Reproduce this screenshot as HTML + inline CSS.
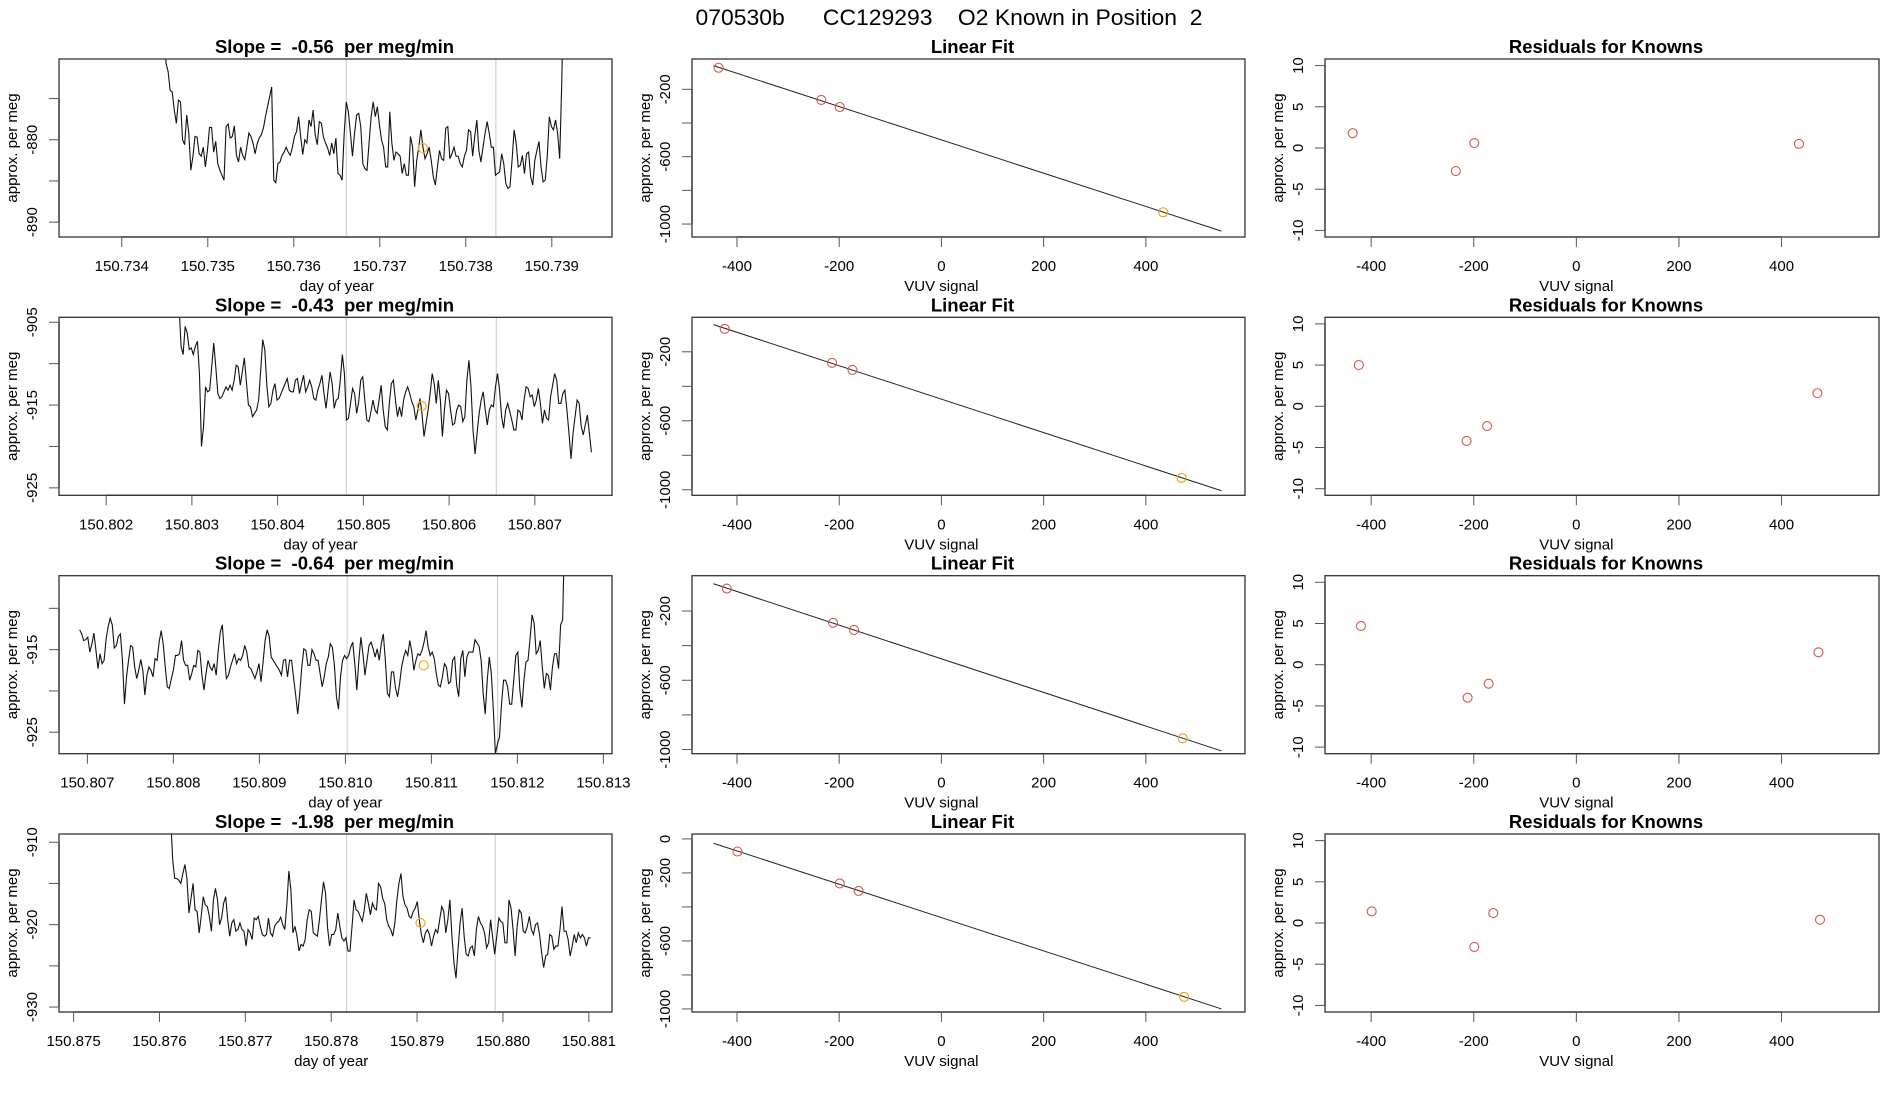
<!DOCTYPE html>
<html>
<head>
<meta charset="utf-8">
<style>
html,body{margin:0;padding:0;background:#fff;}
svg{display:block;}
text{font-family:"Liberation Sans",Arial,sans-serif;fill:#000;}
.tick{font-size:15px;}
.lab{font-size:15px;}
.ttl{font-size:18.5px;font-weight:bold;}
</style>
</head>
<body>
<svg id="fig" width="1900" height="1100" viewBox="0 0 1900 1100" xmlns="http://www.w3.org/2000/svg">
<rect x="0" y="0" width="1900" height="1100" fill="#fff"/>
<text x="949" y="25" text-anchor="middle" style="font-size:22px;white-space:pre" xml:space="preserve" textLength="507" lengthAdjust="spacingAndGlyphs">070530b      CC129293    O2 Known in Position  2</text>
</svg>
<script>
// ---------- time-series data (per meg values, evenly sampled) ----------
const tsTimeRange1 = [150.73449, 150.73914];
const tsValues1 = [-860,-870.7,-871.7,-874,-874.2,-876.4,-878,-875.2,-875.4,-880,-880.6,-877,-879.2,-883.7,-882,-879.6,-879.7,-881.7,-882,-880.9,-883.3,-881.3,-878.5,-878.5,-881.5,-880.2,-882.9,-883.7,-884.3,-884.9,-878.4,-878.1,-879.8,-879.6,-878.3,-881.9,-882.7,-880.9,-881.9,-882.4,-880.9,-879.2,-879.6,-880.4,-881.7,-880.5,-879.8,-879.4,-878.6,-877.2,-876,-874.8,-873.6,-884.9,-885.2,-882.9,-882.7,-881.9,-881.5,-880.9,-881.5,-881.9,-880.9,-879.6,-879,-877.2,-879.6,-881.8,-880,-880.4,-877.6,-878.4,-876.4,-879.4,-880.6,-877.8,-878,-879.7,-880.4,-881,-881.9,-880.4,-881.7,-879.8,-884.1,-884.3,-884.9,-879.2,-875.4,-876.6,-879.2,-882,-879.2,-877,-876.8,-878.4,-882.9,-883.5,-883.7,-880.4,-877.2,-875.4,-877.2,-876,-878.2,-880,-880.9,-883.3,-883.3,-876.6,-880.4,-882.5,-881.5,-881.7,-882,-884.1,-882.9,-884.3,-884.3,-879.6,-880.9,-885.7,-882.5,-880.9,-878.8,-880.9,-882.3,-881.7,-880.9,-882.5,-884.5,-885.5,-883.3,-881.3,-882.3,-882.5,-878.6,-878.4,-882.3,-881.7,-880.9,-882,-882,-882.9,-883.3,-882,-881.3,-878.8,-879,-882,-879.6,-877.6,-881.3,-882.7,-880.9,-879.2,-877.8,-879.2,-880.9,-880.9,-884.3,-884.1,-883.9,-881.7,-882.9,-885.3,-885.9,-885.7,-882.5,-878.8,-880.4,-883.3,-883.1,-881.9,-884.1,-881.7,-881.5,-884.5,-885.5,-882.5,-881.3,-880.2,-883.3,-885.1,-884.9,-882,-877.2,-878.4,-878.8,-877.6,-879.2,-882.3,-873,-860];
const tsTimeRange2 = [150.80285, 150.80766];
const tsValues2 = [-903,-907.9,-908.9,-905.5,-906.3,-908.3,-908.1,-908.9,-907.9,-907.3,-911.2,-920,-917.6,-912.8,-913.4,-913.2,-910.4,-907.5,-910.4,-913.6,-914.2,-914,-913.4,-912.8,-913.2,-912.6,-913.2,-912,-910.2,-910.4,-912.6,-911,-909.3,-912.2,-915,-915.2,-916.4,-916,-915.6,-914.4,-910.8,-907.1,-908.3,-912.6,-915.2,-914.8,-913.2,-912.4,-914.4,-914.2,-913.6,-913,-912.4,-911.8,-913.2,-913.4,-913.4,-912,-911.8,-913.6,-912.4,-911.4,-913.4,-912.8,-912,-912.8,-914.2,-914.4,-913.2,-912.4,-911.4,-913.6,-915.4,-913.2,-911,-912.4,-915.4,-914.4,-914.2,-912,-908.9,-911.2,-916.8,-916.6,-914.8,-913,-913.6,-916,-914.6,-912,-911.6,-914.4,-916.8,-917,-915.8,-914.4,-915.6,-916,-914.4,-912.6,-915.6,-917.6,-918,-914.8,-912.4,-912,-914.4,-916.4,-915.2,-916.4,-914.4,-913.4,-912.8,-913.6,-914.6,-915.2,-916.8,-915.6,-914.2,-916,-918.8,-917.2,-915.6,-913.6,-911.2,-912.4,-914.8,-912,-914.4,-918.8,-915.6,-913.2,-913.6,-915.6,-917.4,-917.2,-915.6,-915,-915.2,-917,-916.4,-912,-909.6,-912.8,-918,-920.9,-918.4,-916,-914.4,-913.4,-915.6,-917.4,-915.6,-915,-915.2,-912.8,-911.2,-913.2,-916.4,-917.8,-915.6,-914.8,-915.8,-916.8,-918,-918,-915.6,-915.8,-916.8,-914.4,-912.8,-913,-914,-913.8,-915.2,-914.4,-913,-914.8,-917.2,-915.6,-916.6,-916.8,-914,-912.6,-911.2,-912,-914.8,-914.8,-913.6,-913.2,-915.6,-918.4,-921.5,-918.4,-916.4,-914.4,-914.8,-917.6,-918.6,-917.4,-916.2,-918.4,-920.7];
const tsTimeRange3 = [150.80691, 150.81255];
const tsValues3 = [-912.6,-913.1,-913.9,-913.8,-913.5,-915.3,-914.3,-913,-915.1,-917.3,-915.5,-916.7,-916.3,-913.7,-912.2,-911.2,-912,-914.8,-914.5,-913.4,-913.1,-916.3,-921.6,-918.3,-916.3,-914.5,-914.7,-917.1,-918.5,-917.5,-916.2,-917.5,-920.5,-918.1,-917.1,-917.5,-918.3,-916.1,-916.3,-914.1,-912.7,-914.3,-917.1,-919.5,-919.7,-918.5,-917.5,-915.7,-915.7,-915.5,-913.9,-916.3,-916.9,-916.9,-918.7,-917.9,-916.9,-917.1,-915.1,-915.3,-918.1,-919.9,-917.9,-916.3,-917.1,-917.5,-916.7,-918.1,-915.1,-912.9,-912,-915.5,-918.5,-918.1,-917.1,-916.3,-915.5,-916.7,-916.1,-916.3,-915.7,-914.5,-915.3,-917.1,-917.3,-917.9,-918.5,-917.7,-916.7,-918.9,-916.5,-913.9,-912.6,-913.4,-915.9,-916.3,-916.7,-917.1,-917.5,-918.1,-916.3,-916.2,-918.3,-916.3,-916.3,-918.5,-920.5,-922.8,-920.3,-917.1,-914.9,-915.1,-916.9,-916.9,-915,-915.5,-916.3,-916.3,-917.9,-919.5,-918.3,-916.7,-915.9,-914.3,-914.7,-916.9,-920.7,-922.2,-918.3,-916.3,-915.7,-916.1,-915.7,-914.7,-914.1,-916.7,-919.9,-916.3,-913.5,-915.5,-918.1,-916.3,-914.5,-914.1,-914.9,-915.9,-914.9,-916.3,-914.3,-913.1,-916.3,-920.3,-920.7,-917.7,-917.7,-919.7,-920.7,-919.1,-917.1,-915.9,-915.1,-915.7,-913.9,-915.3,-917.5,-916.3,-915.5,-915.7,-915.1,-914.1,-912.7,-914.7,-915.7,-915.3,-916.1,-917.9,-919.3,-919.5,-918.3,-916.7,-917.1,-919.1,-918.9,-916.3,-915.9,-919.3,-920.7,-916.1,-915.1,-918.3,-915.9,-915.3,-915.3,-915.3,-913.8,-914.2,-914.6,-916.3,-920.3,-922.8,-918.7,-915.9,-917.9,-922.4,-927.6,-926.4,-925.6,-921.6,-918.7,-918.7,-919.5,-921.6,-921.6,-918.7,-915.7,-915.3,-919.9,-922,-918.7,-916.5,-916.3,-913.7,-910.8,-911.8,-915.5,-915.1,-913.9,-917.1,-919.7,-917.9,-918.1,-919.9,-917.1,-915.5,-915.5,-917.3,-912,-911.4,-900];
const tsTimeRange4 = [150.87613, 150.88102];
const tsValues4 = [-907,-912.1,-914.4,-914.4,-914.6,-915,-913.8,-912.7,-914.4,-918.6,-916.8,-915,-918.2,-918.4,-921,-919,-916.6,-917.6,-917.8,-919,-920.8,-917,-915.6,-917,-920,-919.2,-917.4,-916.6,-919.4,-921.4,-919.8,-919.4,-920.8,-920.6,-919.8,-920.6,-920.8,-922.6,-920.6,-921,-921.8,-919.2,-919.4,-919,-920.2,-921.2,-921.4,-921.2,-919.2,-921,-921.4,-920.2,-919.8,-919.6,-919.1,-920,-920.6,-917.6,-913.5,-915.8,-921,-920.2,-921.4,-923.2,-922.4,-922.6,-921.8,-919.4,-918.2,-918.4,-921,-921.2,-921.4,-919.4,-917,-914.8,-916.2,-920.4,-922.6,-921.2,-921.2,-920.6,-918.6,-920.2,-921.6,-922,-921.6,-923.2,-923.2,-920.2,-917,-918.2,-918.4,-919,-919.6,-918.2,-916.2,-917.4,-918.8,-917.4,-918,-918.2,-915,-915.4,-916.8,-917.4,-919.4,-920.2,-920.6,-921.4,-919.8,-917,-915,-913.8,-916.6,-917.6,-918,-919,-919.2,-918.4,-918,-917.2,-919.4,-921.2,-922.2,-921,-920.6,-921.2,-922.6,-921.4,-920.6,-921,-919.4,-917.8,-918.4,-921,-919.4,-917,-921.4,-924.6,-926.5,-923,-919.8,-918,-921.4,-923.6,-923.8,-922.8,-922.6,-923.8,-920.6,-919,-919.8,-920.2,-921,-922.8,-922.2,-919.4,-921.6,-923.6,-921.4,-919.2,-919.6,-919.8,-922.2,-922.2,-917,-918,-920.6,-923.8,-920.2,-918.2,-918.6,-920.8,-921,-920.2,-919,-920.6,-921.2,-920,-919.8,-921.2,-923.4,-925.2,-923.8,-923.6,-921.2,-921.4,-923,-922.6,-922.6,-920.6,-917.8,-920.8,-920.8,-921.8,-923.8,-922.6,-921.2,-922.2,-921,-921.6,-921.2,-921.6,-922.6,-921.6,-921.6];
const slopeLabels = ["-0.56","-0.43","-0.64","-1.98"];
const grayLines1 = [150.73661, 150.73835];
const grayLines2 = [150.80480, 150.80655];
const grayLines3 = [150.81002, 150.81177];
const grayLines4 = [150.87818, 150.87991];
const orangeT = [150.7375, 150.80568, 150.81091, 150.87904];
const orangeV = [-881.0, -915.1, -916.9, -919.8];
const tsXTicks1 = ["150.734","150.735","150.736","150.737","150.738","150.739"];
const tsXTicks2 = ["150.802","150.803","150.804","150.805","150.806","150.807"];
const tsXTicks3 = ["150.807","150.808","150.809","150.810","150.811","150.812","150.813"];
const tsXTicks4 = ["150.875","150.876","150.877","150.878","150.879","150.880","150.881"];
const tsYTicks1 = [-875,-880,-885,-890];
const tsYTicks2 = [-905,-910,-915,-920,-925];
const tsYTicks3 = [-910,-915,-920,-925];
const tsYTicks4 = [-910,-915,-920,-925,-930];
const tsYLabels1 = [-880,-890];
const tsYLabels2 = [-905,-915,-925];
const tsYLabels3 = [-915,-925];
const tsYLabels4 = [-910,-920,-930];
const tsXDomain1 = [150.73327, 150.73970];
const tsXDomain2 = [150.80145, 150.80790];
const tsXDomain3 = [150.80667, 150.81310];
const tsXDomain4 = [150.87483, 150.88127];
const tsYDomain1 = [-891.8, -870.2];
const tsYDomain2 = [-925.9, -904.4];
const tsYDomain3 = [-927.6, -906.05];
const tsYDomain4 = [-930.6, -909.0];

// ---------- linear fit / residual data ----------
const knownX1 = [-436,-235,-199,434];
const knownX2 = [-424,-214,-174,470];
const knownX3 = [-420,-212,-171,472];
const knownX4 = [-399,-199,-162,475];
const knownY1 = [-72,-263,-305,-930];
const knownY2 = [-67,-264,-305,-931];
const knownY3 = [-70,-268,-309,-935];
const knownY4 = [-74,-262,-306,-929];
const resid1 = [1.8,-2.8,0.6,0.5];
const resid2 = [5.0,-4.2,-2.4,1.6];
const resid3 = [4.7,-4.0,-2.3,1.5];
const resid4 = [1.4,-2.9,1.2,0.4];
const fitYDomain1 = [-1077,-20];
const fitYDomain2 = [-1032,0];
const fitYDomain3 = [-1024,4];
const fitYDomain4 = [-1018,29];
const fitYTicks = [-200,-400,-600,-800,-1000];
const fitYTicks4 = [0,-200,-400,-600,-800,-1000];
const fitYLabels = [-200,-600,-1000];
const fitYLabels4 = [0,-200,-600,-1000];
const vuvTicks = [-400,-200,0,200,400];
const vuvDomain = [-488,594];
const residXDomain = [-490,590];
const fitLineRange = [-446,548];
const residTicks = [10,5,0,-5,-10];
const residDomain = [-10.8,10.8];

// ---------- layout ----------
const SVGNS = "http://www.w3.org/2000/svg";
const fig = document.getElementById("fig");
const colX = [[59,612],[692,1245],[1325,1879]];
const rowTop = [59,317.3,575.7,834];
const PH = 178;

function el(tag, attrs, parent){
  const e = document.createElementNS(SVGNS, tag);
  for (const k in attrs) e.setAttribute(k, attrs[k]);
  (parent||fig).appendChild(e);
  return e;
}
function scale(d, r){ return v => r[0] + (v - d[0]) / (d[1] - d[0]) * (r[1] - r[0]); }

function frame(g, x0, x1, y0, y1){
  const b = el("rect",{x:x0,y:y0,width:x1-x0,height:y1-y0,fill:"none",stroke:"#333","stroke-width":1.3},g);
  
  
}
function xAxis(g, vals, labels, sx, yb, title){
  const ax = el("g",{},g);
  
  
  el("line",{x1:sx(vals[0]),x2:sx(vals[vals.length-1]),y1:yb,y2:yb,stroke:"#333","stroke-width":1.3},ax);
  vals.forEach((v,i)=>{
    el("line",{x1:sx(v),x2:sx(v),y1:yb,y2:yb+10,stroke:"#555","stroke-width":1},ax);
    const t = el("text",{x:sx(v),y:yb+34,"text-anchor":"middle",class:"tick"},ax);
    t.textContent = labels[i];
    
    
  });
  const tt = el("text",{x:sx((vals[0]+vals[vals.length-1])/2),y:yb+54,"text-anchor":"middle",class:"lab"},ax);
  tt.textContent = title;
  
  
}
function yAxis(g, ticks, labels, sy, xl, yMid){
  const ax = el("g",{},g);
  
  
  el("line",{x1:xl,x2:xl,y1:sy(ticks[0]),y2:sy(ticks[ticks.length-1]),stroke:"#333","stroke-width":1.3},ax);
  ticks.forEach(v=>{
    el("line",{x1:xl,x2:xl-10,y1:sy(v),y2:sy(v),stroke:"#555","stroke-width":1},ax);
  });
  labels.forEach(v=>{
    const x = xl-22, y = sy(v);
    const t = el("text",{x:x,y:y,"text-anchor":"middle",class:"tick",transform:`rotate(-90 ${x} ${y})`},ax);
    t.textContent = String(v);
    
    
  });
  const x = xl-42;
  const tt = el("text",{x:x,y:yMid,"text-anchor":"middle",class:"lab",transform:`rotate(-90 ${x} ${yMid})`},ax);
  tt.textContent = "approx. per meg";
  
  
}
function title(g, x, y, txt, name){
  const t = el("text",{x:x,y:y,"text-anchor":"middle",class:"ttl","xml:space":"preserve",style:"white-space:pre"},g);
  t.textContent = txt;
  
  
}

const tsRange = [tsTimeRange1,tsTimeRange2,tsTimeRange3,tsTimeRange4];
const tsVals = [tsValues1,tsValues2,tsValues3,tsValues4];
const grays = [grayLines1,grayLines2,grayLines3,grayLines4];
const xTickL = [tsXTicks1,tsXTicks2,tsXTicks3,tsXTicks4];
const yT = [tsYTicks1,tsYTicks2,tsYTicks3,tsYTicks4];
const yL = [tsYLabels1,tsYLabels2,tsYLabels3,tsYLabels4];
const xD = [tsXDomain1,tsXDomain2,tsXDomain3,tsXDomain4];
const yD = [tsYDomain1,tsYDomain2,tsYDomain3,tsYDomain4];
const kX = [knownX1,knownX2,knownX3,knownX4];
const kY = [knownY1,knownY2,knownY3,knownY4];
const rs = [resid1,resid2,resid3,resid4];
const fD = [fitYDomain1,fitYDomain2,fitYDomain3,fitYDomain4];

for (let r=0; r<4; r++){
  const y0 = rowTop[r], y1 = rowTop[r]+PH;
  // ---- time series panel ----
  {
    const [x0,x1] = colX[0];
    const g = el("g",{});
    
    
    const sx = scale(xD[r],[x0,x1]), sy = scale(yD[r],[y1,y0]);
    const cid = "clipts"+r;
    const cp = el("clipPath",{id:cid},g);
    el("rect",{x:x0,y:y0,width:x1-x0,height:y1-y0},cp);
    grays[r].forEach(t=>{
      const l = el("line",{x1:sx(t),x2:sx(t),y1:y0,y2:y1,stroke:"#c8c8c8","stroke-width":1},g);
      
      
    });
    const vals = tsVals[r], tr = tsRange[r], n = vals.length;
    let d = "";
    vals.forEach((v,i)=>{
      const t = tr[0] + (tr[1]-tr[0]) * i/(n-1);
      d += (i?"L":"M") + sx(t).toFixed(2) + "," + sy(v).toFixed(2);
    });
    const p = el("path",{d:d,fill:"none",stroke:"#111","stroke-width":1.1,"clip-path":`url(#${cid})`},g);
    
    
    const c = el("circle",{cx:sx(orangeT[r]),cy:sy(orangeV[r]),r:4.5,fill:"none",stroke:"#f5a623","stroke-width":1.2},g);
    
    
    frame(g,x0,x1,y0,y1);
    const labs = xTickL[r];
    const nums = labs.map(Number);
    xAxis(g, nums, labs, sx, y1, "day of year");
    yAxis(g, yT[r], yL[r], sy, x0, (y0+y1)/2);
    title(g, (x0+x1)/2 - 1, y0-6, "Slope =  " + slopeLabels[r] + "  per meg/min", "slope-title");
  }
  // ---- linear fit panel ----
  {
    const [x0,x1] = colX[1];
    const g = el("g",{});
    
    
    const sx = scale(vuvDomain,[x0,x1]), sy = scale(fD[r],[y1,y0]);
    const xs = kX[r], ys = kY[r], n = xs.length;
    const mx = xs.reduce((a,b)=>a+b)/n, my = ys.reduce((a,b)=>a+b)/n;
    let sxy=0, sxx=0;
    for (let i=0;i<n;i++){ sxy += (xs[i]-mx)*(ys[i]-my); sxx += (xs[i]-mx)*(xs[i]-mx); }
    const b = sxy/sxx, a = my - b*mx;
    const ln = el("line",{x1:sx(fitLineRange[0]),y1:sy(a+b*fitLineRange[0]),x2:sx(fitLineRange[1]),y2:sy(a+b*fitLineRange[1]),stroke:"#222","stroke-width":1},g);
    
    
    xs.forEach((x,i)=>{
      const c = el("circle",{cx:sx(x),cy:sy(ys[i]),r:4.5,fill:"none",stroke:i===n-1?"#f39c12":"#d9534f","stroke-width":1.1},g);
      
      
    });
    frame(g,x0,x1,y0,y1);
    xAxis(g, vuvTicks, vuvTicks.map(String), sx, y1, "VUV signal");
    yAxis(g, r===3?fitYTicks4:fitYTicks, r===3?fitYLabels4:fitYLabels, sy, x0, (y0+y1)/2);
    title(g, (x0+x1)/2 + 4, y0-6, "Linear Fit", "linear-fit-title");
  }
  // ---- residual panel ----
  {
    const [x0,x1] = colX[2];
    const g = el("g",{});
    
    
    const sx = scale(residXDomain,[x0,x1]), sy = scale(residDomain,[y1,y0]);
    kX[r].forEach((x,i)=>{
      const c = el("circle",{cx:sx(x),cy:sy(rs[r][i]),r:4.5,fill:"none",stroke:"#d9534f","stroke-width":1.1},g);
      
      
    });
    frame(g,x0,x1,y0,y1);
    xAxis(g, vuvTicks, vuvTicks.map(String), sx, y1, "VUV signal");
    yAxis(g, residTicks, residTicks, sy, x0, (y0+y1)/2);
    title(g, (x0+x1)/2 + 4, y0-6, "Residuals for Knowns", "residuals-title");
  }
}
</script>
</body>
</html>
